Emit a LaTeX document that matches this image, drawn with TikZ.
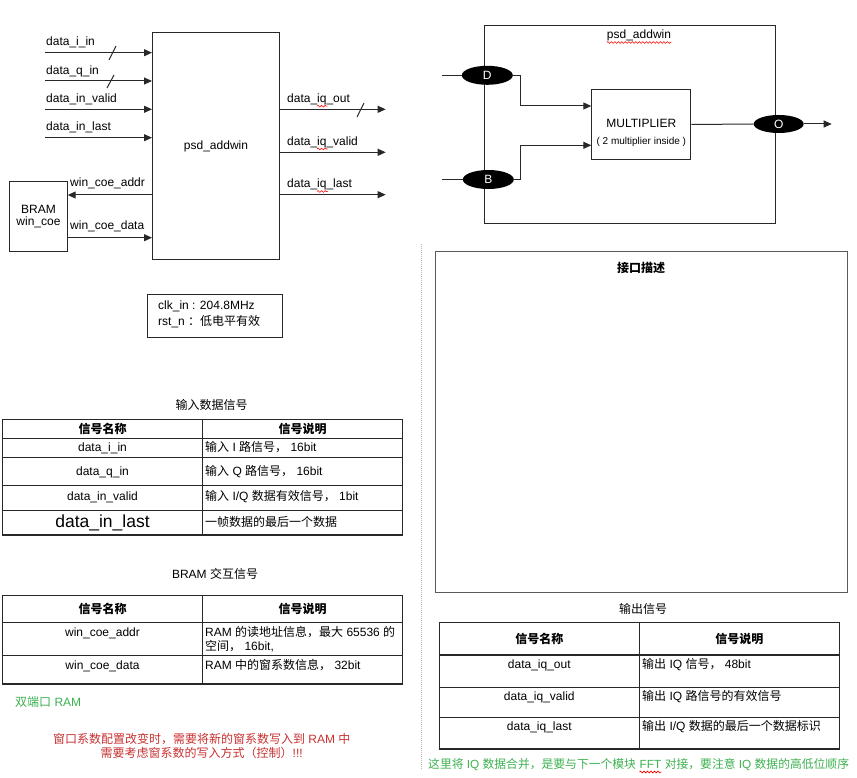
\documentclass[tikz,border=0pt]{standalone}
\usepackage{fontspec}
\setmainfont{Liberation Sans}
\newfontfamily\cjk{Noto Sans CJK SC}
\newcommand\zh[1]{{\cjk #1}}
\usetikzlibrary{arrows.meta,shapes.geometric,decorations.pathmorphing,calc}
\definecolor{grn}{RGB}{60,176,80}
\definecolor{rd}{RGB}{200,48,48}
\definecolor{ln}{RGB}{40,40,40}
\begin{document}
\begin{tikzpicture}[x=1pt,y=-1pt,
  every node/.style={font=\fontsize{12}{14}\selectfont, inner sep=0pt},
  arr/.style={ln, line width=1pt, -{Triangle[length=8pt,width=7pt]}},
  wire/.style={ln, line width=1pt},
  blk/.style={draw=ln, line width=1pt, fill=white},
  port/.style={ellipse, fill=black, text=white, minimum width=51pt, minimum height=19pt},
  tbl/.style={draw=ln, line width=1.2pt},
  wavy/.style={red, line width=0.6pt, decorate, decoration={snake, amplitude=0.9pt, segment length=3.5pt}},
  lbl/.style={anchor=base west},
  ctr/.style={anchor=base},
  hdr/.style={anchor=base, font=\fontsize{12}{14}\selectfont\cjk\bfseries},
  gtxt/.style={anchor=base west, text=grn, font=\fontsize{11.8}{14}\selectfont},
]
\useasboundingbox (0,0) rectangle (857,778);

% ---------- left block diagram ----------
\node[blk, anchor=north west, minimum width=127pt, minimum height=227pt] (main) at (152,32) {psd\_addwin};

\coordinate (ia) at (45,52.7);  \draw[arr] (ia) -- (ia -| main.west);
\coordinate (ib) at (45,81);    \draw[arr] (ib) -- (ib -| main.west);
\coordinate (ic) at (45,109.3); \draw[arr] (ic) -- (ic -| main.west);
\coordinate (id) at (45,137.7); \draw[arr] (id) -- (id -| main.west);
\node[lbl] (la) at (46,46) {data\_i\_in};
\node[lbl] (lb) at (46,74.5) {data\_q\_in};
\node[lbl] (lc) at (46,102.7) {data\_in\_valid};
\node[lbl] (ld) at (46,131) {data\_in\_last};
\draw[wire] (109,60) -- (116,46);
\draw[wire] (107,88) -- (114,75);

\coordinate (oa) at (385.7,109.3); \draw[arr] (main.east |- oa) -- (oa);
\coordinate (ob) at (385.7,152.3); \draw[arr] (main.east |- ob) -- (ob);
\coordinate (oc) at (385.7,194.7); \draw[arr] (main.east |- oc) -- (oc);
\node[lbl] (loa) at (287,102.7) {data\_iq\_out};
\node[lbl] (lob) at (287,145.5) {data\_iq\_valid};
\node[lbl] (loc) at (287,188) {data\_iq\_last};
\draw[wire] (357,117) -- (364,103);
\draw[wavy] (317,106.2) -- (327.5,106.2);
\draw[wavy] (317,149) -- (327.5,149);
\draw[wavy] (317,191.5) -- (327.5,191.5);

\node[blk, anchor=north west, minimum width=57.4pt, minimum height=70pt, align=center,
      font=\fontsize{12}{12.5}\selectfont] (bram) at (9.3,181) {BRAM\\win\_coe};
\coordinate (wa) at (0,195);   \draw[arr] (main.west |- wa) -- (bram.east |- wa);
\coordinate (wd) at (0,237.7); \draw[arr] (bram.east |- wd) -- (main.west |- wd);
\node[lbl] (lwa) at (70,186.7) {win\_coe\_addr};
\node[lbl] (lwd) at (70,230) {win\_coe\_data};

\node[blk, anchor=north west, minimum width=135pt, minimum height=42.4pt] (clk) at (147.3,294.3) {};
\node[lbl] (clk1) at (158,309.3) {clk\_in : 204.8MHz};
\node[lbl] (clk2) at (158,325.3) {rst\_n \zh{：低电平有效}};

% ---------- right block diagram ----------
\node[blk, anchor=north west, minimum width=290.7pt, minimum height=198.3pt] (pa) at (484.3,25) {};
\node[ctr] (pat) at (639,39) {psd\_addwin};
\draw[wavy] ($(pat.base west)+(0,3.5)$) -- ($(pat.base east)+(0,3.5)$);
\node[blk, anchor=north west, minimum width=99pt, minimum height=70.6pt] (mul) at (591.3,88.7) {};
\node[ctr] (mt) at (mul.center |- 0,127.3) {MULTIPLIER};
\node[ctr, font=\fontsize{10}{12}\selectfont] (ms) at (mul.center |- 0,144.3) {( 2 multiplier inside )};
\node[port] (D) at (487.3,75.3) {D};
\node[port] (B) at (488.3,179.5) {B};
\node[port, minimum width=50pt, minimum height=18pt] (O) at (778.7,124) {O};
\coordinate (Din) at (442,75.3);  \draw[wire] (Din) -- (D.west);
\coordinate (Bin) at (442,179.5); \draw[wire] (Bin) -- (B.west);
\draw[arr] (D.east) -| (520,106) -- (mul.west |- 520,106);
\draw[arr] (B.east) -| (520,145.3) -- (mul.west |- 520,145.3);
\draw[wire] (mul.east) -- (O.west);
\coordinate (Oout) at (831.7,124); \draw[arr] (O.east) -- (Oout);

% ---------- divider ----------
\draw[gray!55, line width=1pt, dash pattern=on 1pt off 1pt] (421,244) -- (421,770);

% ---------- interface box ----------
\node[draw=gray!70!black, line width=1pt, anchor=north west, minimum width=411.7pt, minimum height=340.7pt] (ifc) at (435,251) {};
\node[hdr] (ifct) at (641,272.5) {接口描述};

% ---------- table 1 ----------
\node[ctr] (t1t) at (211.7,409.5) {\zh{输入数据信号}};
\draw[tbl] (2.7,419.3) rectangle (402.7,535);
\draw[tbl] (202.3,419.3) -- (202.3,535);
\foreach \y in {438.3,457.7,485.7,510.7} \draw[tbl] (2.7,\y) -- (402.7,\y);
\node[hdr] (t1h1) at (102.5,433.5) {信号名称};
\node[hdr] (t1h2) at (302.5,433.5) {信号说明};
\node[ctr] (t1a) at (102.5,451) {data\_i\_in};
\node[ctr] (t1b) at (102.5,475.7) {data\_q\_in};
\node[ctr] (t1c) at (102.5,500.7) {data\_in\_valid};
\node[ctr, font=\fontsize{17.5}{20}\selectfont] (t1d) at (102.5,527.3) {data\_in\_last};
\node[lbl] (t1a2) at (205,451) {\zh{输入} I \zh{路信号，} 16bit};
\node[lbl] (t1b2) at (205,475.7) {\zh{输入} Q \zh{路信号，} 16bit};
\node[lbl] (t1c2) at (205,500.7) {\zh{输入} I/Q \zh{数据有效信号，} 1bit};
\node[lbl] (t1d2) at (205,526) {\zh{一帧数据的最后一个数据}};

% ---------- table 2 ----------
\node[ctr] (t2t) at (215,578.5) {BRAM \zh{交互信号}};
\draw[tbl] (2.7,595.7) rectangle (402.7,684);
\draw[tbl] (202.3,595.7) -- (202.3,684);
\foreach \y in {622.3,655.7} \draw[tbl] (2.7,\y) -- (402.7,\y);
\node[hdr] (t2h1) at (102.5,613.3) {信号名称};
\node[hdr] (t2h2) at (302.5,613.3) {信号说明};
\node[ctr] (t2a) at (102.5,636) {win\_coe\_addr};
\node[ctr] (t2b) at (102.5,669.3) {win\_coe\_data};
\node[lbl] (t2a2) at (205,636) {RAM \zh{的读地址信息，最大} 65536 \zh{的}};
\node[lbl] (t2a3) at (205,650) {\zh{空间，} 16bit,};
\node[lbl] (t2b2) at (205,669.3) {RAM \zh{中的窗系数信息，} 32bit};

\node[lbl, text=grn] (dp) at (15,706) {\zh{双端口} RAM};
\node[ctr, text=rd] (r1) at (201.7,743) {\zh{窗口系数配置改变时，需要将新的窗系数写入到} RAM \zh{中}};
\node[ctr, text=rd] (r2) at (201.7,757) {\zh{需要考虑窗系数的写入方式（控制）}!!!};

% ---------- table 3 ----------
\node[ctr] (t3t) at (643,613.5) {\zh{输出信号}};
\draw[tbl] (439.3,622.7) rectangle (839.3,749);
\draw[tbl] (639.3,622.7) -- (639.3,749);
\foreach \y in {655,687.3,717.7} \draw[tbl] (439.3,\y) -- (839.3,\y);
\node[hdr] (t3h1) at (539.3,643.3) {信号名称};
\node[hdr] (t3h2) at (739.3,643.3) {信号说明};
\node[ctr] (t3a) at (539.3,668.3) {data\_iq\_out};
\node[ctr] (t3b) at (539.3,700) {data\_iq\_valid};
\node[ctr] (t3c) at (539.3,730.7) {data\_iq\_last};
\node[lbl] (t3a2) at (642,668.3) {\zh{输出} IQ \zh{信号，} 48bit};
\node[lbl] (t3b2) at (642,700) {\zh{输出} IQ \zh{路信号的有效信号}};
\node[lbl] (t3c2) at (642,730.7) {\zh{输出} I/Q \zh{数据的最后一个数据标识}};

\node[gtxt] (g1) at (428,768.5) {\zh{这里将} IQ \zh{数据合并，是要与下一个模块}};
\node[gtxt, xshift=3.2pt] (g2) at (g1.base east) {FFT};
\node[gtxt, xshift=3.2pt] (g3) at (g2.base east) {\zh{对接，要注意} IQ \zh{数据的高低位顺序}};
\draw[wavy] ($(g2.base west)+(0,3.5)$) -- ($(g2.base east)+(0,3.5)$);
\end{tikzpicture}
\end{document}
